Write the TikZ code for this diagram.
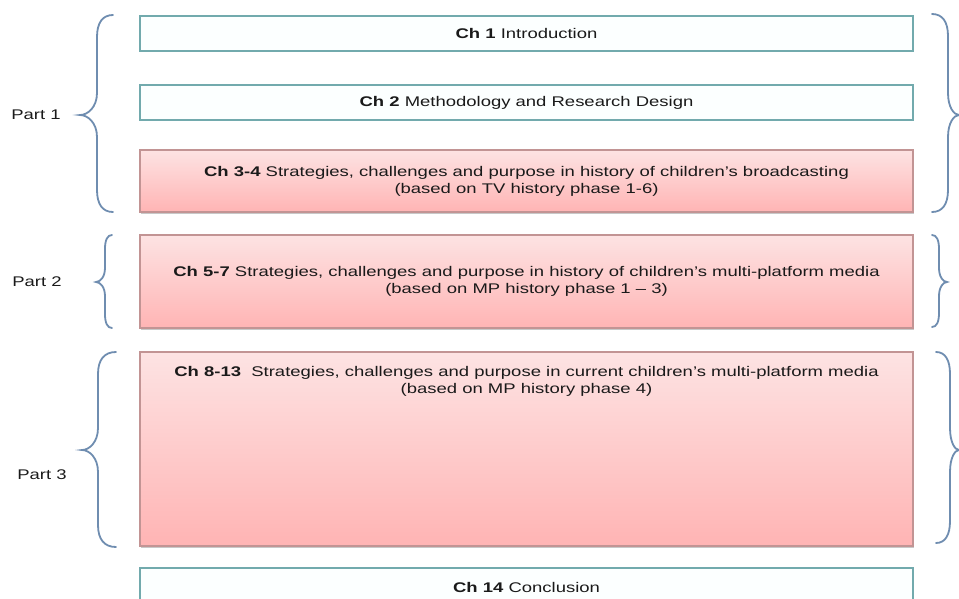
\documentclass[tikz,border=0pt]{standalone}
\usepackage{fontspec}
\setmainfont{Liberation Sans}[FakeStretch=1.32]
\usetikzlibrary{shadows}
\definecolor{bracec}{HTML}{6F8DB0}
\definecolor{tealc}{HTML}{72AAAD}
\definecolor{tealfill}{HTML}{FCFFFF}
\definecolor{pinktop}{HTML}{FDE3E3}
\definecolor{pinkbot}{HTML}{FFB4B4}
\definecolor{pinkline}{HTML}{C29494}
\definecolor{txt}{HTML}{1A1A1A}
\newcommand\mybrace[7]{% ex, bx, tx, top, tip, bottom, r
  \draw[bracestyle] ({#1},{#4}) .. controls ({#2+0.35*(#1-#2)},{#4}) and ({#2},{#4+0.35*#7}) .. ({#2},{#4+#7})
    -- ({#2},{#5-#7}) .. controls ({#2},{#5-0.35*#7}) and ({#3+0.45*(#2-#3)},{#5}) .. ({#3},{#5})
    .. controls ({#3+0.45*(#2-#3)},{#5}) and ({#2},{#5+0.35*#7}) .. ({#2},{#5+#7})
    -- ({#2},{#6-#7}) .. controls ({#2},{#6-0.35*#7}) and ({#2+0.35*(#1-#2)},{#6}) .. ({#1},{#6});}
\begin{document}
\begin{tikzpicture}[x=1pt,y=-1pt,
  every node/.style={font=\fontsize{14}{17}\selectfont, text=txt},
  bracestyle/.style={draw=bracec, line width=1.8pt, line cap=round},
  chbox/.style={draw=tealc, line width=2.2pt, fill=tealfill, minimum width=773pt, inner sep=0pt},
  pinkbox/.style={draw=pinkline, line width=1.1pt, top color=pinktop, bottom color=pinkbot,
    minimum width=773pt, inner sep=0pt, align=center,
    drop shadow={shadow xshift=0.8pt, shadow yshift=-1.6pt, opacity=0.3, fill=black!70}},
  partlabel/.style={inner sep=0pt}]
\clip (0,0) rectangle (959,598);
\fill[white] (0,0) rectangle (959,598);

% boxes
\node[chbox, minimum height=35pt] (b1) at (526.5,33.5) {\textbf{Ch 1} Introduction};
\node[chbox, minimum height=35pt] (b2) at (526.5,102.5) {\textbf{Ch 2} Methodology and Research Design};
\node[pinkbox, minimum height=62pt] (b3) at (526.5,181) {\textbf{Ch 3-4} Strategies, challenges and purpose in history of children’s broadcasting\\(based on TV history phase 1-6)};
\node[pinkbox, minimum height=93pt] (b4) at (526.5,281.5) {\textbf{Ch 5-7} Strategies, challenges and purpose in history of children’s multi-platform media\\(based on MP history phase 1 – 3)};
\node[pinkbox, minimum height=194pt] (b5) at (526.5,449) {};
\node[anchor=north, align=center, inner sep=0pt] (b5t) at (526.5,366) {\textbf{Ch 8-13}\ \ Strategies, challenges and purpose in current children’s multi-platform media\\(based on MP history phase 4)};
\node[chbox, minimum height=38pt] (b6) at (526.5,587) {\textbf{Ch 14} Conclusion};

% left braces
\mybrace{113}{97}{80}{15}{115}{212}{22}
\mybrace{112}{105}{96}{235}{282}{328}{14}
\mybrace{116}{98}{82}{352}{450}{547}{22}
% right braces
\mybrace{932}{948}{959}{14}{115}{212}{22}
\mybrace{932}{939}{947}{235}{282}{327}{14}
\mybrace{936}{950}{959}{352}{450}{543}{22}

% part labels
\node[partlabel] (p1) at (36,115) {Part 1};
\node[partlabel] (p2) at (37,282) {Part 2};
\node[partlabel] (p3) at (42,475) {Part 3};
\end{tikzpicture}
\end{document}
